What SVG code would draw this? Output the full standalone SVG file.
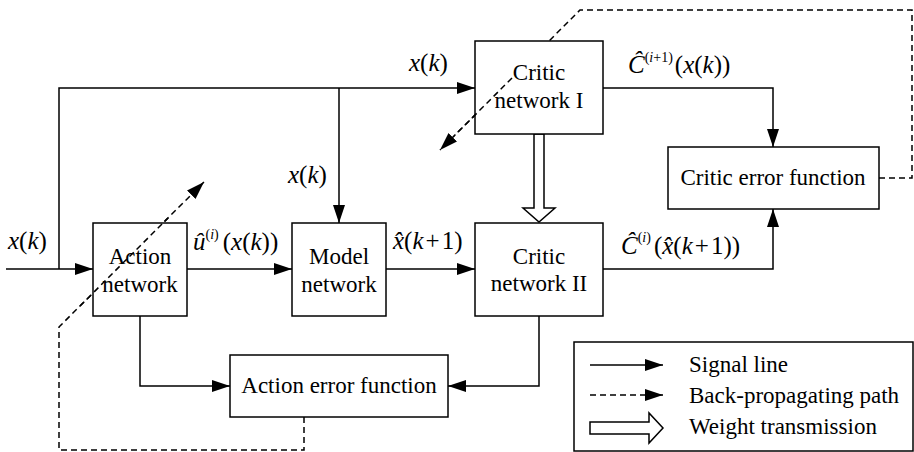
<svg xmlns="http://www.w3.org/2000/svg" width="914" height="452" viewBox="0 0 914 452">
  <style>
    .box { fill: #fff; stroke: #000; stroke-width: 1.5; }
    .lbl { font-family: 'Liberation Serif', 'DejaVu Serif', serif; font-size: 23px; fill: #000; text-anchor: middle; }
    .leg { font-family: 'Liberation Serif', 'DejaVu Serif', serif; font-size: 23px; fill: #000; }
    .m { font-family: 'Liberation Serif', 'DejaVu Serif', serif; font-size: 25px; font-style: italic; fill: #000; }
    .up { font-style: normal; }
    .sup { font-size: 14px; }
    .sig { fill: none; stroke: #000; stroke-width: 1.5; marker-end: url(#head); }
    .bp { fill: none; stroke: #000; stroke-width: 1.5; stroke-dasharray: 6 4; marker-end: url(#head); }
    .dash { fill: none; stroke: #000; stroke-width: 1.5; stroke-dasharray: 6 4; }
    .wt { fill: #fff; stroke: #000; stroke-width: 1.5; stroke-linejoin: miter; }
  </style>
  <defs>
    <marker id="head" viewBox="0 0 18 12" refX="18" refY="6" markerWidth="18" markerHeight="12" markerUnits="userSpaceOnUse" orient="auto">
      <path d="M0,0 L18,6 L0,12 z" fill="#000"/>
    </marker>
  </defs>

  <!-- signal lines and back-propagation paths -->
  <g id="connectors">
    <path class="sig" d="M6,269 H93"/>
    <path class="sig" d="M59,269 V88 H475"/>
    <path class="sig" d="M339,88 V223"/>
    <path class="sig" d="M187,269 H292"/>
    <path class="sig" d="M386,269 H475"/>
    <path class="sig" d="M603,88 H773 V147"/>
    <path class="sig" d="M603,269 H773 V209"/>
    <path class="sig" d="M140,316 V386 H230"/>
    <path class="sig" d="M539,316 V386 H448"/>
    <path class="bp" d="M879,178 H912 V10 H580 L440,150"/>
    <path class="bp" d="M304,417 V450 H59 V327 L204,182"/>
    <!-- weight transmission from critic I to critic II -->
    <polygon class="wt" points="534,134 544,134 544,208 555,208 539,222 523,208 534,208"/>
  </g>

  <!-- signal labels -->
  <g id="labels">
    <text class="m" x="409" y="71">x<tspan class="up">(</tspan>k<tspan class="up">)</tspan></text>
    <text class="m" x="288" y="183">x<tspan class="up">(</tspan>k<tspan class="up">)</tspan></text>
    <text class="m" x="8" y="249">x<tspan class="up">(</tspan>k<tspan class="up">)</tspan></text>

    <text class="m" x="193" y="250">û<tspan class="sup up" dy="-11">(<tspan font-style="italic">i</tspan>)</tspan><tspan class="up" dx="4" dy="11">(</tspan>x<tspan class="up">(</tspan>k<tspan class="up">))</tspan></text>

    <text class="m" x="393" y="249">x̂<tspan class="up">(</tspan>k<tspan class="up" dx="2">+</tspan><tspan class="up" dx="2">1)</tspan></text>

    <text class="m" x="628" y="73">Ĉ<tspan class="sup up" dy="-11">(<tspan font-style="italic">i</tspan>+1)</tspan><tspan class="up" dx="2" dy="11">(</tspan>x<tspan class="up">(</tspan>k<tspan class="up">))</tspan></text>

    <text class="m" x="621" y="254">Ĉ<tspan class="sup up" dy="-12">(<tspan font-style="italic">i</tspan>)</tspan><tspan class="up" dx="3" dy="12">(</tspan>x̂<tspan class="up">(</tspan>k<tspan class="up" dx="2">+</tspan><tspan class="up" dx="2">1))</tspan></text>
  </g>

  <g id="action-network">
    <rect class="box" x="93" y="223" width="94" height="93"/>
    <text class="lbl" x="140" y="264">Action</text>
    <text class="lbl" x="140" y="292">network</text>
  </g>

  <g id="model-network">
    <rect class="box" x="292" y="223" width="94" height="93"/>
    <text class="lbl" x="339" y="264">Model</text>
    <text class="lbl" x="339" y="292">network</text>
  </g>

  <g id="critic-network-1">
    <rect class="box" x="475" y="41" width="128" height="93"/>
    <text class="lbl" x="539" y="80">Critic</text>
    <text class="lbl" x="539" y="108">network I</text>
  </g>

  <g id="critic-network-2">
    <rect class="box" x="475" y="223" width="128" height="93"/>
    <text class="lbl" x="539" y="264">Critic</text>
    <text class="lbl" x="539" y="291">network II</text>
  </g>

  <g id="critic-error">
    <rect class="box" x="668" y="147" width="211" height="62"/>
    <text class="lbl" x="773" y="185">Critic error function</text>
  </g>

  <g id="action-error">
    <rect class="box" x="230" y="355" width="218" height="62"/>
    <text class="lbl" x="339" y="393">Action error function</text>
  </g>

  <!-- diagonal back-propagation segments drawn over the boxes they cross -->
  <g id="crossings">
    <path class="dash" d="M512,78 L454,136"/>
    <path class="dash" d="M80,306 L168,218"/>
  </g>

  <g id="legend">
    <rect class="box" x="574" y="342" width="339" height="109"/>
    <path class="sig" d="M590,365 H663"/>
    <path class="bp" d="M590,395 H663"/>
    <polygon class="wt" points="590,422 649,422 649,413 663,428 649,443 649,434 590,434"/>
    <text class="leg" x="689" y="372">Signal line</text>
    <text class="leg" x="689" y="403">Back-propagating path</text>
    <text class="leg" x="689" y="434">Weight transmission</text>
  </g>
</svg>
